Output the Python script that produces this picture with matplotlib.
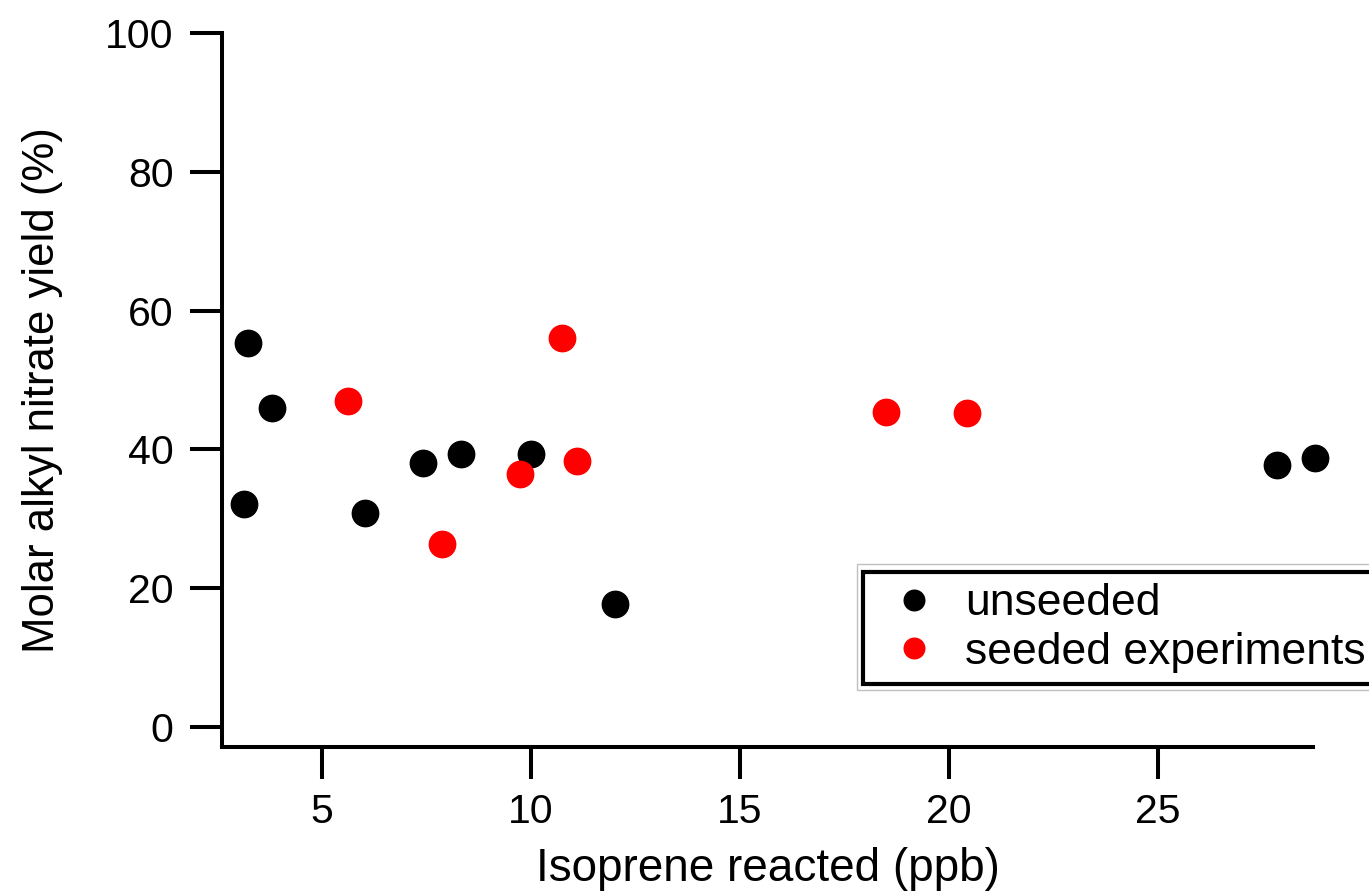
import matplotlib
matplotlib.use('Agg')
from matplotlib import pyplot as plt
from matplotlib.patches import Rectangle

plt.rcParams['font.family'] = ['Liberation Sans', 'DejaVu Sans']

# unseeded experiments
unseededX = [3.13, 3.24, 3.80, 6.03, 7.42, 8.33, 10.0, 12.01, 27.85, 28.76]
unseededY = [32.2, 55.4, 45.9, 30.8, 38.0, 39.3, 39.3, 17.7, 37.8, 38.7]
# seeded experiments
seededX = [5.62, 7.87, 9.74, 10.75, 11.11, 18.49, 20.43]
seededY = [47.0, 26.4, 36.4, 56.0, 38.4, 45.4, 45.2]

xTicks = [5, 10, 15, 20, 25]
yTicks = [0, 20, 40, 60, 80, 100]

W, H = 1369, 892
fig = plt.figure(figsize=(W/100, H/100), dpi=100)
ax = fig.add_axes([222/W, 145/H, (1313-222)/W, (747-33)/H])

ax.plot(unseededX, unseededY, 'o', color='k', markersize=19, clip_on=False, label='unseeded')
ax.plot(seededX, seededY, 'o', color='#ff0000', markersize=19, clip_on=False, label='seeded experiments')

ax.set_xlim(2.608, 28.708)
ax.set_ylim(-2.88, 100)
ax.set_xticks(xTicks)
ax.set_yticks(yTicks)
ax.spines['top'].set_visible(False)
ax.spines['right'].set_visible(False)
for s in ['left', 'bottom']:
    ax.spines[s].set_linewidth(2.9)
ax.tick_params(axis='both', direction='out', length=23, width=2.9, labelsize=29.5)
ax.tick_params(axis='x', pad=10)
ax.tick_params(axis='y', pad=12)

# reference crops the descenders here; keep it just inside the canvas
ax.set_xlabel('Isoprene reacted (ppb)', fontsize=33, labelpad=11.5)
ax.set_ylabel('Molar alkyl nitrate yield (%)', fontsize=31.5, labelpad=30)

leg = ax.legend(loc='upper left', bbox_to_anchor=(863/W, 1-572/H), bbox_transform=fig.transFigure,
                borderaxespad=0, fontsize=32, frameon=True, fancybox=False, borderpad=0.25,
                labelspacing=0.17, handlelength=1.8, handletextpad=0.25, markerscale=0.78)
leg.get_frame().set_edgecolor('k')
leg.get_frame().set_linewidth(3)
leg.get_frame().set_alpha(1)

# thin grey outline round the legend box
fig.patches.append(Rectangle((857/W, 1-690/H), (W+20-857)/W, (690-564)/H, transform=fig.transFigure,
                             fill=False, edgecolor='#c0c0c0', linewidth=1, zorder=0))

fig.savefig('out.png', dpi=100)
